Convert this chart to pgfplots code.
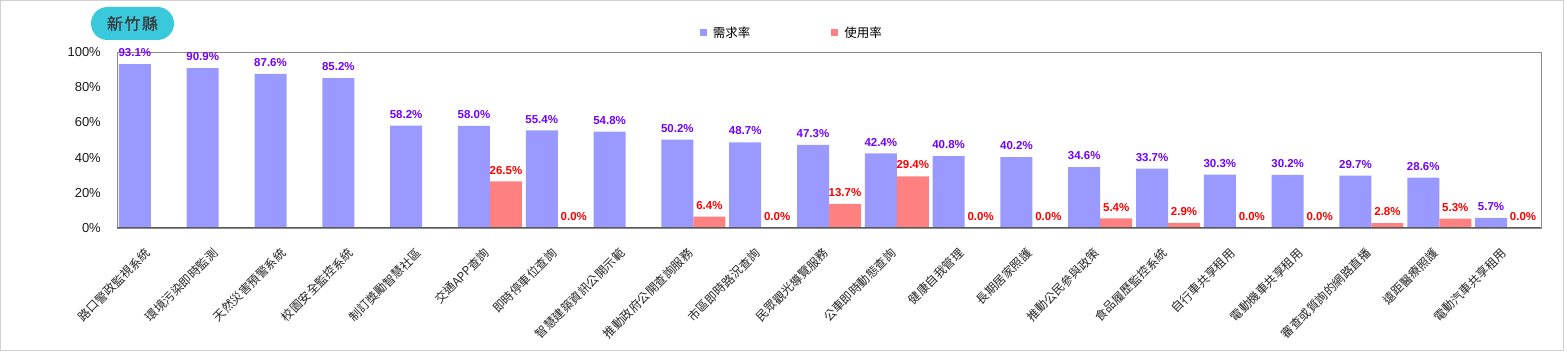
\documentclass[border=0pt]{standalone}
\usepackage{pgfplots}
\pgfplotsset{compat=1.18}
\usepackage{pgfplotstable}
\usepackage{fontspec}
\setmainfont{Liberation Sans}
\newfontfamily\cjk{Noto Sans CJK TC}
\newfontfamily\cjkmed[FakeBold=0.7]{Noto Sans CJK TC}
\definecolor{barblue}{RGB}{153,153,255}
\definecolor{barred}{RGB}{255,128,128}
\definecolor{lblblue}{RGB}{112,0,255}
\definecolor{lblred}{RGB}{255,0,0}
\definecolor{pill}{RGB}{58,200,220}
\pgfplotsset{sqlegend/.style={legend image code/.code={\fill[##1] (0bp,-3.5bp) rectangle (7bp,3.5bp);}}}

\pgfplotstableread{
x y
0 93.1
1 90.9
2 87.6
3 85.2
4 58.2
5 58.0
6 55.4
7 54.8
8 50.2
9 48.7
10 47.3
11 42.4
12 40.8
13 40.2
14 34.6
15 33.7
16 30.3
17 30.2
18 29.7
19 28.6
20 5.7
}\demand

\pgfplotstableread{
x y
5 26.5
6 0.0
8 6.4
9 0.0
10 13.7
11 29.4
12 0.0
13 0.0
14 5.4
15 2.9
16 0.0
17 0.0
18 2.8
19 5.3
20 0.0
}\usage

\begin{document}
\begin{tikzpicture}
\useasboundingbox (0bp,0bp) rectangle (1567bp,352bp);
\draw[line width=1bp, black!18] (0.5bp,1.5bp) rectangle (1563.5bp,351.5bp);
\node[fill=pill, rounded corners=16.5bp, minimum width=83bp, minimum height=33bp, inner sep=0pt, text=black!78, font=\cjkmed\fontsize{16bp}{18bp}\selectfont] at (132.5bp,328.5bp) {新\kern1.5bp 竹\kern1.5bp 縣};
\begin{axis}[
  at={(117bp,124bp)}, anchor=south west,
  width=1424bp, height=176bp, scale only axis,
  xmin=-0.5, xmax=20.5, ymin=0, ymax=100,
  clip=false,
  ybar,
  axis line style={black!45},
  major tick length=0pt,
  /pgf/number format/assume math mode=true,
  ytick={0,20,40,60,80,100},
  yticklabels={0\%,20\%,40\%,60\%,80\%,100\%},
  yticklabel style={font=\fontsize{13bp}{15bp}\selectfont, inner sep=0pt, xshift=-16bp, text=black!90},
  xtick={0,...,20},
  xticklabels={路口警政監視系統,環境污染即時監測,天然災害預警系統,校園安全監控系統,制訂獎勵智慧社區,交通APP查詢,即時停車位查詢,智慧建築資訊公開示範,推動政府公開查詢服務,市區即時路況查詢,民眾觀光導覽服務,公車即時動態查詢,健康自我管理,長期居家照護,推動公民參與政策,食品履歷監控系統,自行車共享租用,電動機車共享租用,審查或質詢的網路直播,遠距醫療照護,電動汽車共享租用},
  xticklabel style={font=\cjk\fontsize{12bp}{14bp}\selectfont, xshift=-3bp, yshift=-23bp, rotate=45, anchor=east, inner sep=0pt, text=black!85},
  legend style={at={(axis description cs:0.474,1.108)}, anchor=center, draw=none, fill=none, legend columns=2, font=\cjk\fontsize{12.5bp}{14bp}\selectfont, /tikz/every even column/.append style={column sep=79bp}, /tikz/every odd column/.append style={column sep=4bp}},
]
\addplot[ybar, fill=barblue, draw=none, bar width=32bp, bar shift=-16bp, sqlegend,
  nodes near coords={\pgfmathprintnumber[fixed,fixed zerofill,precision=1]{\pgfplotspointmeta}\%},
  every node near coord/.append style={font=\bfseries\fontsize{11.5bp}{13bp}\selectfont, text=lblblue, anchor=south, inner sep=0pt, yshift=7bp}]
  table[x=x,y=y]{\demand};
\addlegendentry{需求率}
\addplot[ybar, fill=barred, draw=none, bar width=32bp, bar shift=16bp, sqlegend,
  nodes near coords={\pgfmathprintnumber[fixed,fixed zerofill,precision=1]{\pgfplotspointmeta}\%},
  every node near coord/.append style={font=\bfseries\fontsize{11.5bp}{13bp}\selectfont, text=lblred, anchor=south, inner sep=0pt, yshift=7bp}]
  table[x=x,y=y]{\usage};
\addlegendentry{使用率}
\draw[black!65, line width=1bp] (rel axis cs:0,0) -- (rel axis cs:1,0);
\end{axis}
\end{tikzpicture}
\end{document}
